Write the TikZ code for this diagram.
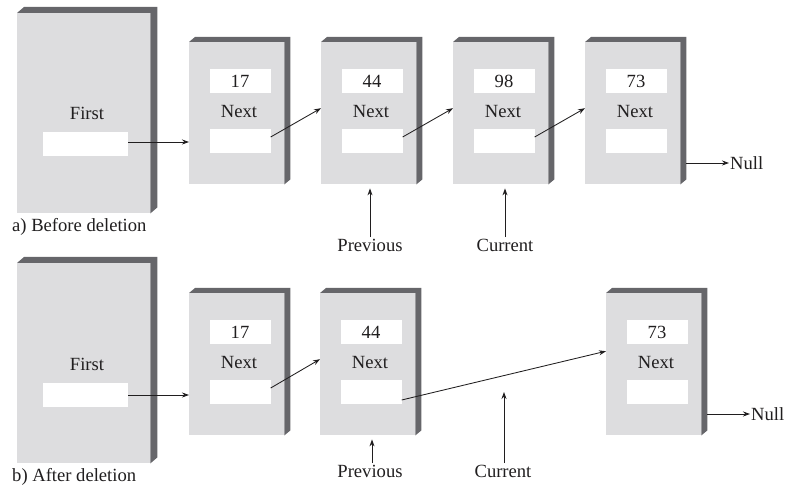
\documentclass[tikz,border=0pt]{standalone}
\usepackage{fontspec}
\setmainfont{Liberation Serif}
\usetikzlibrary{calc,arrows.meta}
\definecolor{facegray}{RGB}{221,221,223}
\definecolor{sidegray}{RGB}{102,102,106}
\definecolor{ink}{RGB}{32,30,31}
\newcommand\extrude[3]{%
  \fill[sidegray] (#1.north west) -- ++(#2,-#3) -| ($(#1.south east)+(#2,-#3)$)
    -- (#1.south east) -- (#1.north east) -- cycle;}
\tikzset{
  txt/.style={text=ink, font=\fontsize{18.6}{20}\selectfont},
  facebox/.style={fill=facegray, inner sep=0pt, anchor=north west,
    minimum width=95pt, minimum height=142pt},
  bigfacebox/.style={facebox, minimum width=133pt, minimum height=200pt},
  fieldbox/.style={txt, fill=white, inner sep=0pt, minimum width=61pt, minimum height=24pt},
  bigfieldbox/.style={fieldbox, minimum width=85pt},
  lbl/.style={txt, inner sep=1.5pt},
  arr/.style={draw=ink, line width=0.85pt, -{Stealth[length=7pt,width=5pt]}},
}
\begin{document}
\begin{tikzpicture}[x=1pt,y=-1pt]
\useasboundingbox (0,0) rectangle (785,486);

% ---------- a) Before deletion ----------
\node[bigfacebox] (F1) at (17,13) {};
\extrude{F1}{7}{6}
\node[lbl] (F1-t) at (87,113) {First};
\node[bigfieldbox] (F1-f) at (85.5,144) {};

\foreach \n/\x/\v in {A1/189/17, B1/321/44, C1/453/98, D1/585/73} {
  \node[facebox] (\n) at (\x,42) {};
  \extrude{\n}{6}{5}
  \node[fieldbox] (\n-v) at (\x+51,81) {\v};
  \node[lbl] (\n-t) at (\x+50,112) {Next};
  \node[fieldbox] (\n-f) at (\x+51,141.5) {};
}

\draw[arr] ([yshift=2pt]F1-f.east) -- ([yshift=2pt]F1-f.east -| A1.west);
\draw[arr] ([yshift=4.5pt]A1-f.east) -- ([yshift=5pt]B1.west);
\draw[arr] ([yshift=4.5pt]B1-f.east) -- ([yshift=5pt]C1.west);
\draw[arr] ([yshift=4.5pt]C1-f.east) -- ([yshift=5pt]D1.west);

\node[txt, inner sep=0pt, anchor=west] (N1) at (730,163) {Null};
\draw[arr, shorten >=1pt] ([xshift=6pt]D1.east |- N1.west) -- (N1.west);

\node[lbl] (P1) at (370,245) {Previous};
\draw[arr] (P1.north) -- ([yshift=-4pt]P1.north |- B1.south);
\node[lbl] (C1l) at (505,245) {Current};
\draw[arr] (C1l.north) -- ([yshift=-4pt]C1l.north |- C1.south);

\node[lbl, anchor=west] (La) at (10.5,227) {a) Before deletion};

% ---------- b) After deletion ----------
\node[bigfacebox] (F2) at (17,263) {};
\extrude{F2}{7}{6}
\node[lbl] (F2-t) at (87,364) {First};
\node[bigfieldbox] (F2-f) at (85.5,395) {};

\foreach \n/\x/\v in {A2/189/17, B2/320/44, D2/606/73} {
  \node[facebox] (\n) at (\x,293) {};
  \extrude{\n}{6}{5}
  \node[fieldbox] (\n-v) at (\x+51,332) {\v};
  \node[lbl] (\n-t) at (\x+50,363) {Next};
  \node[fieldbox] (\n-f) at (\x+51,392.5) {};
}

\draw[arr] (F2-f.east) -- (F2-f.east -| A2.west);
\draw[arr] ([yshift=4.5pt]A2-f.east) -- ([yshift=5pt]B2.west);
\draw[arr] ([yshift=-7.5pt]B2-f.east) -- ([yshift=13pt]D2.west);

\node[txt, inner sep=0pt, anchor=west] (N2) at (751,414) {Null};
\draw[arr, shorten >=1pt] ([xshift=6pt]D2.east |- N2.west) -- (N2.west);

\node[lbl] (P2) at (370,471) {Previous};
\draw[arr] ([xshift=2pt]P2.north) -- ([xshift=2pt,yshift=-4pt]P2.north |- B2.south);
\node[lbl] (C2l) at (503,471) {Current};
\coordinate (C2tip) at (504,392);
\draw[arr] (C2l.north -| C2tip) -- (C2tip);

\node[lbl, anchor=west] (Lb) at (10.5,477) {b) After deletion};
\end{tikzpicture}
\end{document}
